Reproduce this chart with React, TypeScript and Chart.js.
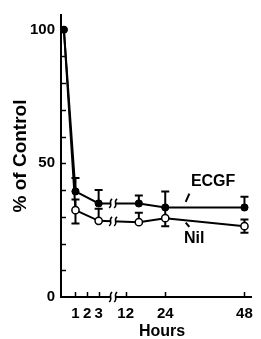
import React, { useEffect, useRef } from "react";
import { Chart, registerables } from "chart.js";

Chart.register(...registerables);

// ---- data ----
const hours = [0, 1, 3, 16, 24, 48];
const ecgf = [100, 39.5, 35, 35, 33.5, 33.5];
const ecgfErrUp = [0, 5, 5, 3, 6, 4];
const ecgfErrDown = [0, 0, 0, 0, 4, 0];
const nil = [100, 32.5, 28.5, 28, 29.5, 26.5];
const nilErrUp = [0, 4, 4.5, 3.5, 0, 2.5];
const nilErrDown = [0, 5, 0, 0, 3, 2.5];
const xTickHours = [1, 2, 3, 12, 24, 48];
const yLabelValues = [0, 50, 100];
const yMinorTicks = [10, 20, 30, 40, 50, 60, 70, 80, 90, 100];

// ---- broken x axis transform (0-3 h expanded, 12-48 h compressed) ----
const POS12 = 5.33;
const K = 0.285;
const BREAK_POS = 4.25;
const pos = (h: number) => (h <= 3 ? h : POS12 + (h - 12) * K);

const FONT = "'Liberation Sans', Arial, Helvetica, sans-serif";

const decor = {
  id: "decor",
  beforeDatasetsDraw(chart: any) {
    const ctx = chart.ctx;
    const xs = chart.scales.x;
    const ys = chart.scales.y;
    const series = [
      { v: ecgf, up: ecgfErrUp, dn: ecgfErrDown },
      { v: nil, up: nilErrUp, dn: nilErrDown },
    ];
    ctx.save();
    ctx.strokeStyle = "#000";
    ctx.lineWidth = 2;
    series.forEach((s) => {
      hours.forEach((h, i) => {
        const x = xs.getPixelForValue(pos(h));
        const y0 = ys.getPixelForValue(s.v[i]);
        const cap = 4;
        if (s.up[i] > 0) {
          const y1 = ys.getPixelForValue(s.v[i] + s.up[i]);
          ctx.beginPath();
          ctx.moveTo(x, y0);
          ctx.lineTo(x, y1);
          ctx.moveTo(x - cap, y1);
          ctx.lineTo(x + cap, y1);
          ctx.stroke();
        }
        if (s.dn[i] > 0) {
          const y2 = ys.getPixelForValue(s.v[i] - s.dn[i]);
          ctx.beginPath();
          ctx.moveTo(x, y0);
          ctx.lineTo(x, y2);
          ctx.moveTo(x - cap, y2);
          ctx.lineTo(x + cap, y2);
          ctx.stroke();
        }
      });
    });
    ctx.restore();
  },
  afterDatasetsDraw(chart: any) {
    const ctx = chart.ctx;
    const xs = chart.scales.x;
    const ys = chart.scales.y;
    const area = chart.chartArea;
    ctx.save();
    const bx = xs.getPixelForValue(BREAK_POS);

    const squiggle = (x: number, y: number, hgt: number) => {
      ctx.fillStyle = "#fff";
      ctx.fillRect(x - 2.5, y - 3, 5, 6);
      ctx.strokeStyle = "#000";
      ctx.lineWidth = 1.5;
      [-2.5, 2.5].forEach((dx) => {
        const cx = x + dx;
        ctx.beginPath();
        ctx.moveTo(cx - 1.5, y + hgt / 2);
        ctx.bezierCurveTo(cx + 3, y + hgt / 6, cx - 3, y - hgt / 6, cx + 1.5, y - hgt / 2);
        ctx.stroke();
      });
    };

    // breaks on the series lines
    [ecgf, nil].forEach((vals) => {
      const xa = xs.getPixelForValue(pos(hours[2]));
      const xb = xs.getPixelForValue(pos(hours[3]));
      const ya = ys.getPixelForValue(vals[2]);
      const yb = ys.getPixelForValue(vals[3]);
      const y = ya + ((bx - xa) / (xb - xa)) * (yb - ya);
      squiggle(bx, y, 9);
    });
    // break on the x axis
    squiggle(bx, area.bottom, 10);

    // inside tick marks
    ctx.strokeStyle = "#000";
    ctx.lineWidth = 1.5;
    yMinorTicks.forEach((v) => {
      const y = Math.round(ys.getPixelForValue(v)) + 0.5;
      ctx.beginPath();
      ctx.moveTo(area.left, y);
      ctx.lineTo(area.left + 5, y);
      ctx.stroke();
    });
    xTickHours.forEach((h) => {
      const x = Math.round(xs.getPixelForValue(pos(h))) + 0.5;
      ctx.beginPath();
      ctx.moveTo(x, area.bottom);
      ctx.lineTo(x, area.bottom - 5);
      ctx.stroke();
    });

    // series labels with pointers
    ctx.fillStyle = "#000";
    ctx.font = `bold 16px ${FONT}`;
    ctx.textAlign = "center";
    ctx.textBaseline = "middle";
    ctx.fillText("ECGF", xs.getPixelForValue(pos(38.5)), ys.getPixelForValue(43.2));
    ctx.fillText("Nil", xs.getPixelForValue(pos(32.8)), ys.getPixelForValue(22));
    ctx.lineWidth = 2;
    ctx.beginPath();
    ctx.moveTo(xs.getPixelForValue(pos(31.3)), ys.getPixelForValue(38.7));
    ctx.lineTo(xs.getPixelForValue(pos(30.2)), ys.getPixelForValue(35.6));
    ctx.moveTo(xs.getPixelForValue(pos(31.3)), ys.getPixelForValue(26.2));
    ctx.lineTo(xs.getPixelForValue(pos(30.2)), ys.getPixelForValue(27.8));
    ctx.stroke();

    // x axis title
    ctx.font = `bold 16px ${FONT}`;
    ctx.textBaseline = "middle";
    ctx.fillText("Hours", (area.left + area.right) / 2 + 6, area.bottom + 35);
    ctx.restore();
  },
};

export default function App() {
  const ref = useRef<HTMLCanvasElement | null>(null);
  useEffect(() => {
    if (!ref.current) return;
    const chart = new Chart(ref.current, {
      type: "line",
      data: {
        datasets: [
          {
            label: "Nil",
            data: hours.map((h, i) => ({ x: pos(h), y: nil[i] })),
            borderColor: "#000",
            borderWidth: 2,
            pointRadius: hours.map((_, i) => (i === 0 ? 0 : 3.6)),
            pointBackgroundColor: "#fff",
            pointBorderColor: "#000",
            pointBorderWidth: 1.5,
            tension: 0,
            order: 2,
          },
          {
            label: "ECGF",
            data: hours.map((h, i) => ({ x: pos(h), y: ecgf[i] })),
            borderColor: "#000",
            borderWidth: 2,
            pointRadius: 3.6,
            pointBackgroundColor: "#000",
            pointBorderColor: "#000",
            pointBorderWidth: 1,
            tension: 0,
            order: 1,
          },
        ],
      },
      options: {
        responsive: false,
        animation: false,
        devicePixelRatio: 1,
        layout: { padding: { top: 15, right: 3, left: 0, bottom: 0 } },
        plugins: { legend: { display: false }, tooltip: { enabled: false } },
        scales: {
          x: {
            type: "linear",
            min: -0.25,
            max: 16.17,
            afterBuildTicks: (scale: any) => {
              scale.ticks = xTickHours.map((h) => ({ value: pos(h) }));
            },
            afterFit: (scale: any) => {
              scale.height = 42;
            },
            grid: { display: false, drawTicks: false },
            border: { display: true, color: "#000", width: 2 },
            ticks: {
              autoSkip: false,
              maxRotation: 0,
              padding: 8,
              color: "#000",
              font: { family: FONT, size: 15, weight: "bold" },
              callback: (_v: any, i: number) => String(xTickHours[i]),
            },
          },
          y: {
            type: "linear",
            min: 0,
            max: 105.5,
            afterBuildTicks: (scale: any) => {
              scale.ticks = yLabelValues.map((v) => ({ value: v }));
            },
            afterFit: (scale: any) => {
              scale.width = 61;
            },
            grid: { display: false, drawTicks: false },
            border: { display: true, color: "#000", width: 2 },
            ticks: {
              padding: 6,
              color: "#000",
              font: { family: FONT, size: 15, weight: "bold" },
              callback: (v: any) => String(v),
            },
            title: {
              display: true,
              text: "% of Control",
              color: "#000",
              font: { family: FONT, size: 19, weight: "bold" },
              padding: { top: 9, bottom: 0 },
            },
          },
        },
      },
      plugins: [decor],
    } as any);
    return () => chart.destroy();
  }, []);
  return (
    <div style={{ position: "fixed", left: 0, top: 0, width: 261, height: 339, background: "#fff" }}>
      <canvas ref={ref} width={261} height={339} style={{ display: "block" }} />
    </div>
  );
}
